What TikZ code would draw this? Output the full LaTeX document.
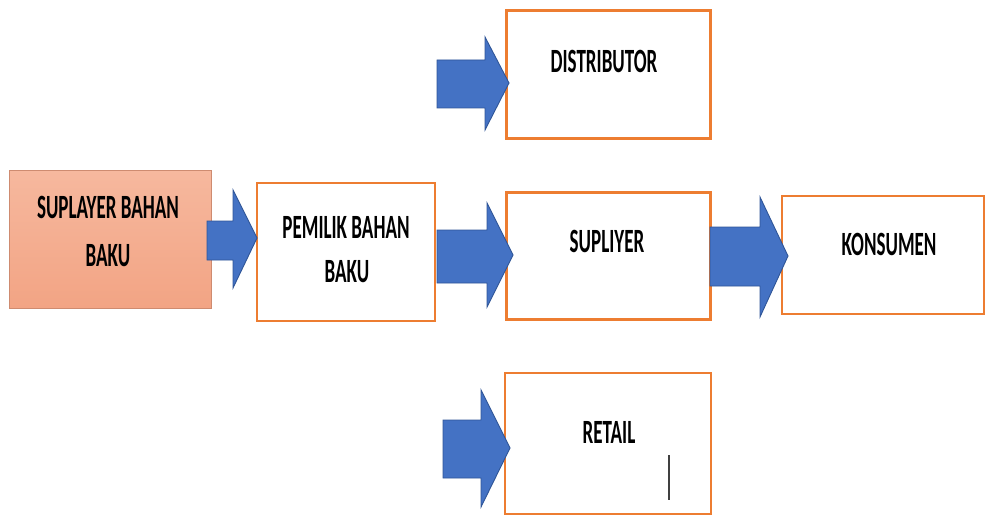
\documentclass[tikz,border=0pt]{standalone}
\usepackage{fontspec}
\newfontfamily\lblfont{Carlito}[FakeStretch=0.56]
\definecolor{boxorange}{HTML}{ED7D31}
\definecolor{arrowblue}{HTML}{4472C4}
\definecolor{arrowedge}{HTML}{2F5597}
\definecolor{salmontop}{HTML}{F6B89E}
\definecolor{salmonbot}{HTML}{F2A484}
\tikzset{
  whitebox/.style={draw=boxorange, line width=2.1pt, fill=white, inner sep=0pt},
  salmonbox/.style={draw=salmonbot!85!black, line width=0.8pt, top color=salmontop, bottom color=salmonbot, inner sep=0pt},
  lbl/.style={font=\lblfont\bfseries\fontsize{34}{46}\selectfont, align=center, inner sep=0pt, text=black, anchor=base},
  blockarrow/.style={fill=arrowblue, draw=arrowedge, line width=0.9pt, line join=miter},
  cursorline/.style={draw=black!75, line width=1.2pt}
}
\begin{document}
\begin{tikzpicture}[x=1pt,y=-1pt]
\useasboundingbox (0,0) rectangle (987,516);
% boxes
\node[salmonbox, minimum width=202pt, minimum height=138pt] (sup) at (110.5,239) {};
\node[whitebox, minimum width=178pt, minimum height=138pt] (pem) at (346,252) {};
\node[whitebox, minimum width=204pt, minimum height=128pt] (dis) at (608.5,74.5) {};
\node[whitebox, minimum width=204pt, minimum height=127pt] (spl) at (608.5,256) {};
\node[whitebox, minimum width=202pt, minimum height=118pt] (kon) at (883,255) {};
\node[whitebox, minimum width=206pt, minimum height=141pt] (ret) at (608,443.5) {};
% labels
\node[lbl] (tsup1) at (108,218) {SUPLAYER BAHAN};
\node[lbl] (tsup2) at (108,266) {BAKU};
\node[lbl] (tpem1) at (346,238) {PEMILIK BAHAN};
\node[lbl] (tpem2) at (347,282) {BAKU};
\node[lbl] (tdis) at (604,73) {DISTRIBUTOR};
\node[lbl] (tspl) at (607,252) {SUPLIYER};
\node[lbl] (tkon) at (889,255) {KONSUMEN};
\node[lbl] (tret) at (609,443) {RETAIL};
% cursor line in RETAIL
\coordinate (c1) at (669,455);
\coordinate (c2) at (669,500);
\draw[cursorline] (c1) -- (c2);
% block arrows
\draw[blockarrow] (207,221) -- (233,221) -- (233,190) -- (257,238) -- (233,288) -- (233,260) -- (207,260) -- cycle;
\draw[blockarrow] (437,230) -- (487,230) -- (487,203) -- (513,255) -- (487,307) -- (487,283) -- (437,283) -- cycle;
\draw[blockarrow] (710,227) -- (760,227) -- (760,197) -- (788,256) -- (760,317) -- (760,286) -- (710,286) -- cycle;
\draw[blockarrow] (437,60) -- (485,60) -- (485,37) -- (509,83) -- (485,130) -- (485,108) -- (437,108) -- cycle;
\draw[blockarrow] (443,420) -- (481,420) -- (481,390) -- (510,448) -- (481,507) -- (481,478) -- (443,478) -- cycle;
\end{tikzpicture}
\end{document}
